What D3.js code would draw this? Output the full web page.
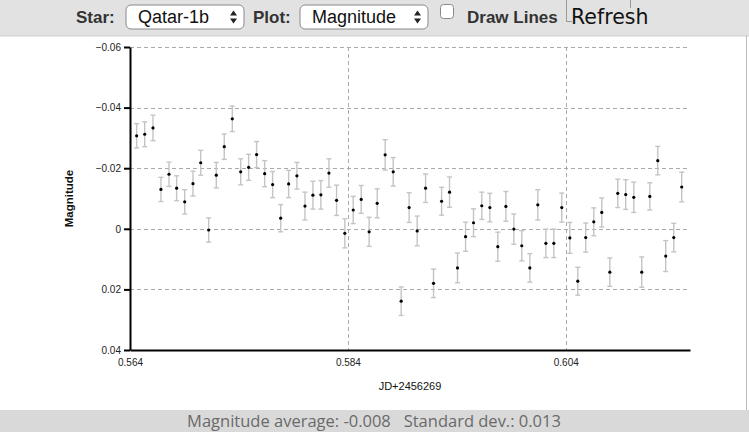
<!DOCTYPE html>
<html>
<head>
<meta charset="utf-8">
<script src="https://cdn.jsdelivr.net/npm/d3@7"></script>
<style>
  body { margin: 0; background: #fff; }
  svg { display: block; }
</style>
</head>
<body>
<div id="chart"></div>
<script>
  // Observation times (JD - 2456269)
  const jd = [
    0.56461, 0.56535, 0.56611, 0.56684, 0.56758, 0.56828, 0.56902, 0.56978, 0.57049, 0.57122,
    0.57192, 0.57265, 0.57339, 0.57416, 0.57489, 0.57562, 0.57636, 0.57709, 0.57783, 0.57856,
    0.57932, 0.58006, 0.58079, 0.58152, 0.58226, 0.58296, 0.58372, 0.58449, 0.58522, 0.58595,
    0.58669, 0.58742, 0.58816, 0.58889, 0.58962, 0.59036, 0.59113, 0.59186, 0.59260, 0.59333,
    0.59406, 0.59480, 0.59553, 0.59629, 0.59703, 0.59776, 0.59850, 0.59923, 0.59996, 0.60070,
    0.60143, 0.60217, 0.60290, 0.60363, 0.60437, 0.60510, 0.60583, 0.60657, 0.60730, 0.60804,
    0.60877, 0.60950, 0.61024, 0.61097, 0.61171, 0.61244, 0.61317, 0.61391, 0.61464
  ];

  // Differential magnitude
  const magnitude = [
    -0.0307, -0.0312, -0.0333, -0.0130, -0.0180, -0.0134, -0.0089, -0.0149, -0.0218, 0.0004,
    -0.0177, -0.0271, -0.0363, -0.0188, -0.0203, -0.0245, -0.0182, -0.0146, -0.0035, -0.0148,
    -0.0175, -0.0075, -0.0111, -0.0112, -0.0184, -0.0094, 0.0015, -0.0062, -0.0097, 0.0010,
    -0.0084, -0.0244, -0.0188, 0.0239, -0.0070, 0.0007, -0.0134, 0.0180, -0.0091, -0.0121,
    0.0129, 0.0026, -0.0020, -0.0076, -0.0070, 0.0059, -0.0074, 0.0001, 0.0056, 0.0129,
    -0.0079, 0.0048, 0.0048, -0.0070, 0.0030, 0.0173, 0.0029, -0.0023, -0.0054, 0.0143,
    -0.0117, -0.0113, -0.0104, 0.0143, -0.0107, -0.0225, 0.0090, 0.0029, -0.0138
  ];

  // Magnitude error (half length of the error bar)
  const magError = [
    0.0040, 0.0041, 0.0042, 0.0040, 0.0040, 0.0041, 0.0040, 0.0041, 0.0041, 0.0040,
    0.0042, 0.0042, 0.0042, 0.0043, 0.0043, 0.0043, 0.0043, 0.0043, 0.0045, 0.0045,
    0.0044, 0.0046, 0.0046, 0.0047, 0.0047, 0.0050, 0.0048, 0.0045, 0.0046, 0.0048,
    0.0048, 0.0050, 0.0047, 0.0047, 0.0049, 0.0049, 0.0047, 0.0047, 0.0046, 0.0050,
    0.0049, 0.0048, 0.0046, 0.0045, 0.0047, 0.0048, 0.0049, 0.0050, 0.0050, 0.0047,
    0.0050, 0.0047, 0.0047, 0.0048, 0.0051, 0.0046, 0.0048, 0.0046, 0.0048, 0.0047,
    0.0047, 0.0049, 0.0050, 0.0050, 0.0045, 0.0047, 0.0051, 0.0047, 0.0049
  ];

  const xTicks = [0.564, 0.584, 0.604];
  const yTicks = [-0.06, -0.04, -0.02, 0, 0.02, 0.04];
  const xDomain = [0.564, 0.6154];
  const yDomain = [-0.06, 0.04];

  const W = 749, H = 432;
  const margin = { top: 47, right: 59, bottom: 82, left: 130 };
  const width = W - margin.left - margin.right;
  const height = H - margin.top - margin.bottom;

  const svg = d3.select("#chart").append("svg")
    .attr("width", W)
    .attr("height", H)
    .style("font-family", "'Liberation Sans', Arial, sans-serif");

  // Top control bar
  svg.append("rect").attr("x", 0).attr("y", 0).attr("width", W).attr("height", 36).attr("fill", "#e2e2e2");
  svg.append("line").attr("x1", 0).attr("x2", W).attr("y1", 36).attr("y2", 36).attr("stroke", "#cfcfcf");

  function label(x, txt) {
    svg.append("text").attr("x", x).attr("y", 23)
      .attr("font-size", 17).attr("font-weight", "bold").attr("fill", "#333")
      .text(txt);
  }
  function selectBox(x, w, txt) {
    const g = svg.append("g").attr("transform", `translate(${x},5)`);
    g.append("rect").attr("width", w).attr("height", 24).attr("rx", 5)
      .attr("fill", "#fff").attr("stroke", "#8a8a8a");
    g.append("text").attr("x", 12).attr("y", 18).attr("font-size", 18).attr("fill", "#111").text(txt);
    // up/down arrows
    g.append("path").attr("d", `M${w - 14},10.5 l3.5,-5 l3.5,5 Z M${w - 14},13.5 l3.5,5 l3.5,-5 Z`).attr("fill", "#222");
  }
  label(76, "Star:");
  selectBox(126, 118, "Qatar-1b");
  label(253, "Plot:");
  selectBox(300, 128, "Magnitude");
  svg.append("rect").attr("x", 440.5).attr("y", 4.5).attr("width", 13).attr("height", 14).attr("rx", 3)
    .attr("fill", "#fff").attr("stroke", "#888");
  label(467, "Draw Lines");
  // Refresh button (cut at top)
  svg.append("path").attr("d", "M566.5,0 V21.5 H572 M630.5,0 V8").attr("fill", "none").attr("stroke", "#999");
  svg.append("text").attr("x", 571).attr("y", 24).attr("font-family", "'DejaVu Sans', sans-serif")
    .attr("font-size", 20.5).attr("fill", "#111").text("Refresh");

  // Frame on the right
  svg.append("line").attr("x1", 746.5).attr("x2", 746.5).attr("y1", 36).attr("y2", 410).attr("stroke", "#bbb");

  // Bottom status bar
  svg.append("rect").attr("x", 0).attr("y", 410).attr("width", W).attr("height", 22).attr("fill", "#d9d9d9");
  svg.append("text").attr("x", 374).attr("y", 427).attr("text-anchor", "middle")
    .attr("font-family", "'Open Sans', sans-serif").attr("font-size", 16.5).attr("fill", "#6a6a6a")
    .attr("xml:space", "preserve")
    .text("Magnitude average: -0.008   Standard dev.: 0.013");

  const g = svg.append("g").attr("transform", `translate(${margin.left},${margin.top})`);

  const x = d3.scaleLinear().domain(xDomain).range([0, width]);
  const y = d3.scaleLinear().domain(yDomain).range([0, height]);

  // Grid lines
  g.selectAll(".hgrid").data(yTicks.slice(0, -1)).enter().append("line")
    .attr("x1", 0).attr("x2", width)
    .attr("y1", d => Math.round(y(d)) + 0.5).attr("y2", d => Math.round(y(d)) + 0.5)
    .attr("stroke", "#aaa").attr("stroke-dasharray", "4,3");
  g.selectAll(".vgrid").data(xTicks.slice(1)).enter().append("line")
    .attr("y1", 0).attr("y2", height)
    .attr("x1", d => Math.round(x(d)) + 0.5).attr("x2", d => Math.round(x(d)) + 0.5)
    .attr("stroke", "#aaa").attr("stroke-dasharray", "4,3");

  // Axes
  const yAxis = g.append("g")
    .call(d3.axisLeft(y).tickValues(yTicks).tickFormat(d => d === 0 ? "0" : d3.format(".2f")(d)).tickSize(6).tickSizeOuter(0));
  const xAxis = g.append("g").attr("transform", `translate(0,${height})`)
    .call(d3.axisBottom(x).tickValues(xTicks).tickFormat(d3.format(".3f")).tickSize(0).tickSizeOuter(0).tickPadding(9));
  [xAxis, yAxis].forEach(a => {
    a.select(".domain").attr("stroke", "#000").attr("stroke-width", 2);
    a.selectAll(".tick line").attr("stroke", "#000").attr("stroke-width", 2);
    a.selectAll("text").attr("font-size", 10).attr("fill", "#222")
      .attr("font-family", "'Liberation Sans', Arial, sans-serif");
  });
  yAxis.selectAll("text").attr("x", -9);

  // Axis titles
  g.append("text").attr("x", width / 2).attr("y", height + 40).attr("text-anchor", "middle")
    .attr("font-size", 11).attr("fill", "#111").text("JD+2456269");
  g.append("text").attr("transform", `translate(-57,${height / 2}) rotate(-90)`).attr("text-anchor", "middle")
    .attr("font-size", 11.5).attr("font-weight", "bold").attr("fill", "#111").text("Magnitude");

  const data = jd.map((d, i) => ({ t: d, m: magnitude[i], e: magError[i] }));

  // Error bars
  const eb = g.selectAll(".err").data(data).enter().append("g").attr("class", "err")
    .attr("stroke", "#c4c4c4").attr("stroke-width", 1.4);
  eb.append("line")
    .attr("x1", d => x(d.t)).attr("x2", d => x(d.t))
    .attr("y1", d => y(d.m - d.e)).attr("y2", d => y(d.m + d.e));
  eb.append("line")
    .attr("x1", d => x(d.t) - 2.5).attr("x2", d => x(d.t) + 2.5)
    .attr("y1", d => y(d.m - d.e)).attr("y2", d => y(d.m - d.e));
  eb.append("line")
    .attr("x1", d => x(d.t) - 2.5).attr("x2", d => x(d.t) + 2.5)
    .attr("y1", d => y(d.m + d.e)).attr("y2", d => y(d.m + d.e));

  // Points
  g.selectAll(".pt").data(data).enter().append("circle").attr("class", "pt")
    .attr("cx", d => x(d.t)).attr("cy", d => y(d.m)).attr("r", 1.6).attr("fill", "#000");
</script>
</body>
</html>
